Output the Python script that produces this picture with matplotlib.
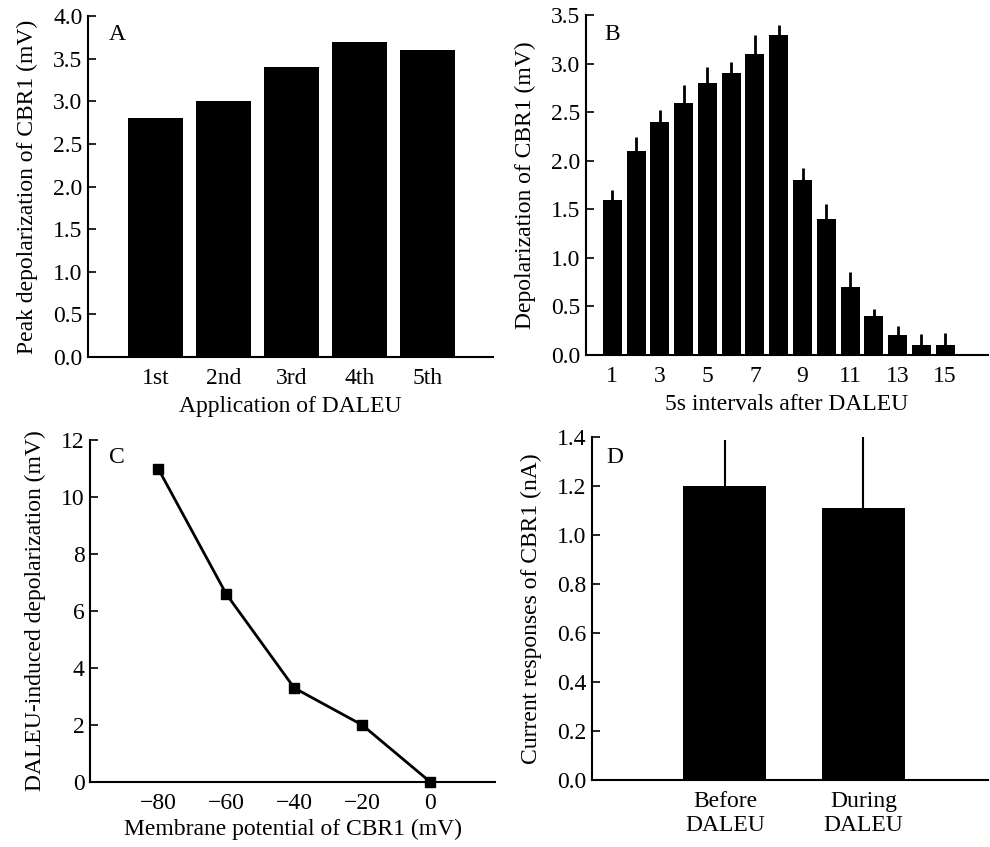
import matplotlib
matplotlib.use("Agg")
import matplotlib.pyplot as plt
import numpy as np

plt.rcParams['font.family'] = ['Liberation Serif', 'DejaVu Serif']

# panel A
app_labels = ['1st', '2nd', '3rd', '4th', '5th']
app_peak = [2.8, 3.0, 3.4, 3.7, 3.6]

# panel B
intervals = list(range(1, 16))
interval_depol = [1.6, 2.1, 2.4, 2.6, 2.8, 2.9, 3.1, 3.3, 1.8, 1.4, 0.7, 0.4, 0.2, 0.1, 0.1]
interval_err = [0.1, 0.15, 0.12, 0.18, 0.17, 0.12, 0.2, 0.1, 0.13, 0.15, 0.15, 0.07, 0.1, 0.12, 0.13]

# panel C
membrane_mv = [-80, -60, -40, -20, 0]
induced_depol = [11.0, 6.6, 3.3, 2.0, 0.0]

# panel D
cond_labels = ['Before\nDALEU', 'During\nDALEU']
current_resp = [1.2, 1.11]
current_err = [0.19, 0.30]

FS = 17
YPAD = 11
XPAD = 5

fig = plt.figure(figsize=(9.9, 8.47), dpi=100)
axA = fig.add_axes([0.089, 0.5785, 0.409, 0.4025])
axB = fig.add_axes([0.592, 0.581, 0.406, 0.401])
axC = fig.add_axes([0.091, 0.0767, 0.409, 0.4038])
axD = fig.add_axes([0.598, 0.079, 0.400, 0.405])


def style(ax):
    for s in ['top', 'right']:
        ax.spines[s].set_visible(False)
    for s in ['left', 'bottom']:
        ax.spines[s].set_linewidth(1.5)
    ax.tick_params(axis='y', direction='in', length=6, width=1.2, labelsize=FS, pad=4)
    ax.tick_params(axis='x', length=0, labelsize=FS, pad=8)


# A
xa = np.arange(len(app_peak))
axA.bar(xa, app_peak, width=0.81, color='black')
axA.set_xlim(-1.0, 4.97)
axA.set_ylim(0, 4.0)
axA.set_yticks(np.arange(0, 4.01, 0.5))
axA.set_yticklabels([f'{v:.1f}' for v in np.arange(0, 4.01, 0.5)])
axA.set_xticks(xa)
axA.set_xticklabels(app_labels)
axA.set_xlabel('Application of DALEU', fontsize=FS, labelpad=XPAD)
axA.set_ylabel('Peak depolarization of CBR1 (mV)', fontsize=FS, labelpad=YPAD)
axA.text(0.072, 0.947, 'A', transform=axA.transAxes, fontsize=FS, ha='center', va='center')
style(axA)

# B
axB.bar(intervals, interval_depol, width=0.8, color='black',
        yerr=[np.zeros(len(interval_err)), interval_err],
        error_kw=dict(ecolor='black', elinewidth=2, capsize=0))
axB.set_xlim(-0.1, 16.8)
axB.set_ylim(0, 3.5)
axB.set_yticks(np.arange(0, 3.51, 0.5))
axB.set_yticklabels([f'{v:.1f}' for v in np.arange(0, 3.51, 0.5)])
axB.set_xticks(range(1, 16, 2))
axB.set_xlabel('5s intervals after DALEU', fontsize=FS, labelpad=XPAD)
axB.set_ylabel('Depolarization of CBR1 (mV)', fontsize=FS, labelpad=YPAD)
axB.text(0.065, 0.944, 'B', transform=axB.transAxes, fontsize=FS, ha='center', va='center')
style(axB)

# C
axC.plot(membrane_mv, induced_depol, color='black', lw=2, marker='s', ms=7, clip_on=False)
axC.set_xlim(-100, 19)
axC.set_ylim(0, 12)
axC.set_yticks(range(0, 13, 2))
axC.set_xticks(membrane_mv)
axC.set_xticklabels(['\u221280', '\u221260', '\u221240', '\u221220', '0'])
axC.set_xlabel('Membrane potential of CBR1 (mV)', fontsize=FS, labelpad=3)
axC.set_ylabel('DALEU-induced depolarization (mV)', fontsize=FS, labelpad=YPAD)
axC.text(0.067, 0.95, 'C', transform=axC.transAxes, fontsize=FS, ha='center', va='center')
style(axC)

# D
xd = np.arange(len(current_resp))
axD.bar(xd, current_resp, width=0.6, color='black',
        yerr=[np.zeros(len(current_err)), current_err],
        error_kw=dict(ecolor='black', elinewidth=1.5, capsize=0))
axD.set_xlim(-0.96, 1.9)
axD.set_ylim(0, 1.4)
axD.set_yticks(np.arange(0, 1.41, 0.2))
axD.set_yticklabels([f'{v:.1f}' for v in np.arange(0, 1.41, 0.2)])
axD.set_xticks(xd)
axD.set_xticklabels(cond_labels)
axD.set_ylabel('Current responses of CBR1 (nA)', fontsize=FS, labelpad=YPAD)
axD.text(0.058, 0.939, 'D', transform=axD.transAxes, fontsize=FS, ha='center', va='center')
style(axD)

fig.savefig('out.png', dpi=100)
